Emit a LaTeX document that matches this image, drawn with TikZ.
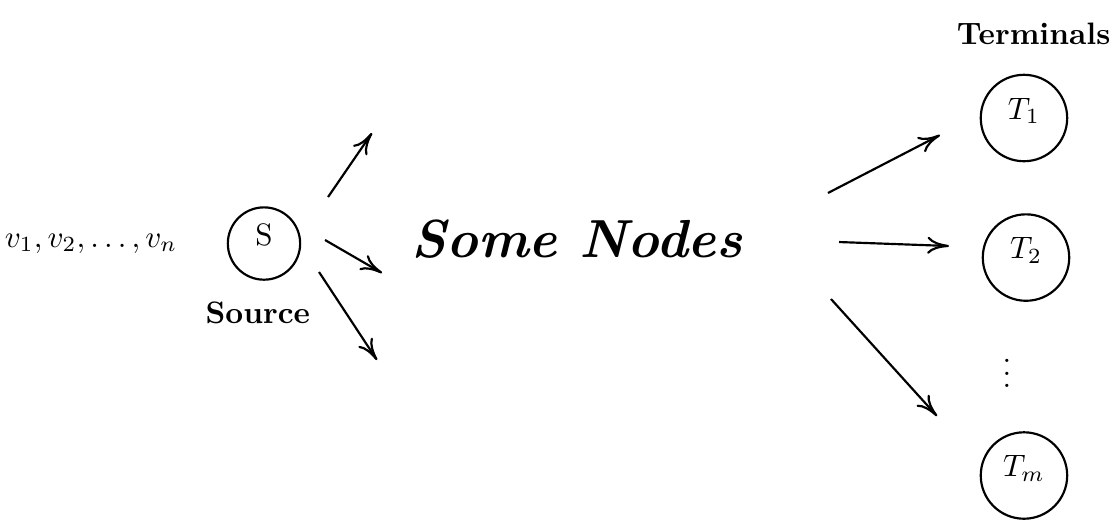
\documentclass[tikz,border=0pt]{standalone}
\usepackage{tikz}
\usetikzlibrary{arrows.meta, positioning}

\begin{document}
\begin{tikzpicture}[
    >={To[length=7pt, width=5.5pt]},
    every node/.style={font=\normalsize},
    srcnode/.style={
      circle, draw, line width=0.7pt, minimum size=8.2mm,
      inner sep=0pt, text depth=6pt
    },
    termnode/.style={
      circle, draw, line width=0.7pt, minimum size=9.8mm,
      inner sep=0pt, text depth=6pt
    },
    caption/.style={font=\normalsize\bfseries},
    bignote/.style={font=\LARGE\bfseries\itshape},
    arrow/.style={->, line width=0.7pt}
  ]
  \useasboundingbox (-2.993,-3.135) rectangle (9.682,2.761);

  % ===== source side =====
  \node (vlist) at (-1.96,0) {$v_1, v_2, \ldots, v_n$};
  \node[srcnode] (src) at (0,0) {S};
  \node[caption, below=1.2mm of src, xshift=-0.7mm] (srccap) {Source};

  % free ends of the fan-out arrows
  \coordinate (s1a) at (0.726,0.527);   \coordinate (s1b) at (1.224,1.253);
  \coordinate (s2a) at (0.692,0.040);   \coordinate (s2b) at (1.338,-0.334);
  \coordinate (s3a) at (0.624,-0.323);  \coordinate (s3b) at (1.281,-1.321);

  \draw[arrow] (s1a) -- (s1b);
  \draw[arrow] (s2a) -- (s2b);
  \draw[arrow] (s3a) -- (s3b);

  % ===== middle =====
  \node[bignote] (middle) at (3.55,0.05) {Some Nodes};

  % ===== terminals =====
  \node[termnode] (t1) at (8.616,1.423) {$T_1$};
  \node[termnode] (t2) at (8.639,-0.159) {$T_2$};
  \node (tdots) at (8.423,-1.37) {$\vdots$};
  \node[termnode] (tm) at (8.616,-2.630) {$T_m$};
  \node[caption, above=2mm of t1, xshift=1.1mm] (termcap) {Terminals};

  \coordinate (m1a) at (6.394,0.573);   \coordinate (m1b) at (7.664,1.230);
  \coordinate (m2a) at (6.519,0.017);   \coordinate (m2b) at (7.766,-0.028);
  \coordinate (m3a) at (6.428,-0.629);  \coordinate (m3b) at (7.630,-1.956);

  \draw[arrow] (m1a) -- (m1b);
  \draw[arrow] (m2a) -- (m2b);
  \draw[arrow] (m3a) -- (m3b);

\end{tikzpicture}
\end{document}
